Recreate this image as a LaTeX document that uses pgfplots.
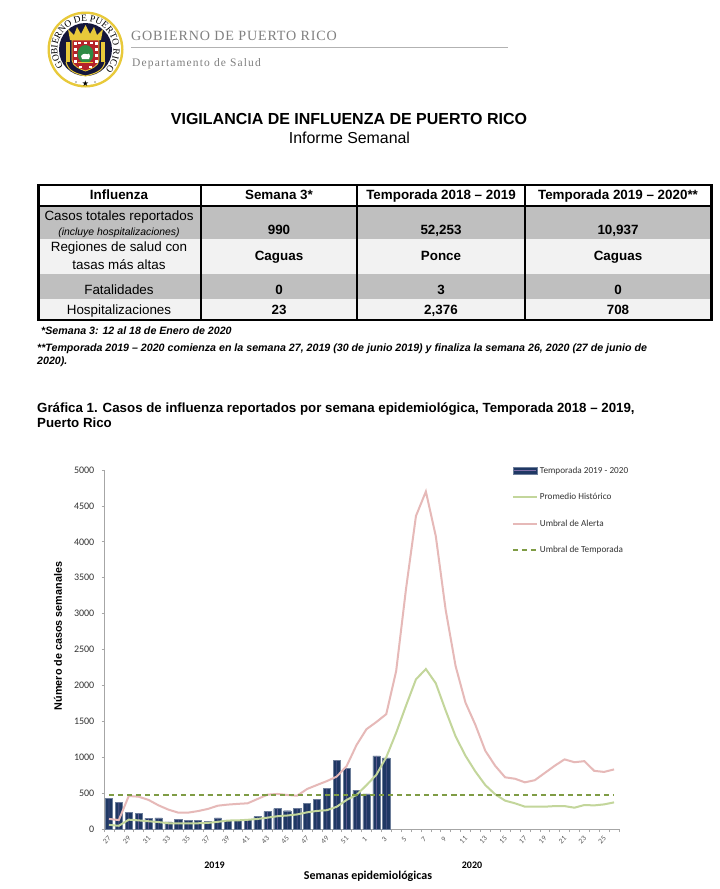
\documentclass[border=0pt]{standalone}
\usepackage{fontspec}
\usepackage{pgfplots}
\usepackage{pgfplotstable}
\pgfplotsset{compat=1.18}
\usetikzlibrary{decorations.text}
\setmainfont{Liberation Sans}
\newfontfamily\calf{Carlito}
\newfontfamily\serf[LetterSpace=6]{Liberation Serif}
\newfontfamily\serg[LetterSpace=10]{Liberation Serif}
\newfontfamily\sertxt{Liberation Serif}
\newfontfamily\symf{DejaVu Sans}
\definecolor{navy}{HTML}{1F3864}
\definecolor{barline}{HTML}{7F6FA8}
\definecolor{promedio}{HTML}{C3D69B}
\definecolor{alerta}{HTML}{E6B9B8}
\definecolor{umbral}{HTML}{7F9C45}
\definecolor{rowdark}{HTML}{BFBFBF}
\definecolor{rowlight}{HTML}{F2F2F2}
\definecolor{axisgray}{HTML}{A6A6A6}
\definecolor{sealgold}{HTML}{E8C93A}
\definecolor{sealink}{HTML}{14163A}
\definecolor{sealred}{HTML}{B5232B}
\definecolor{sealgreen}{HTML}{2E8B45}
\pgfplotstableread{
i wk casos promedio alerta umbral
0 27 425 58 140 480
1 28 370 45 125 480
2 29 235 130 460 480
3 30 215 120 450 480
4 31 150 108 405 480
5 32 155 97 330 480
6 33 100 80 270 480
7 34 135 78 228 480
8 35 120 78 228 480
9 36 120 80 250 480
10 37 105 85 280 480
11 38 155 100 325 480
12 39 120 118 340 480
13 40 125 120 350 480
14 41 135 128 358 480
15 42 172 140 418 480
16 43 242 158 478 480
17 44 283 178 488 480
18 45 255 188 474 480
19 46 292 203 464 480
20 47 353 232 557 480
21 48 413 252 613 480
22 49 570 262 667 480
23 50 960 310 730 480
24 51 840 405 877 480
25 52 540 475 1170 480
26 1 490 610 1390 480
27 2 1020 755 1490 480
28 3 990 1000 1600 480
29 4 nan 1340 2200 480
30 5 nan 1720 3350 480
31 6 nan 2085 4360 480
32 7 nan 2228 4700 480
33 8 nan 2030 4080 480
34 9 nan 1650 3050 480
35 10 nan 1290 2270 480
36 11 nan 1020 1760 480
37 12 nan 800 1450 480
38 13 nan 612 1090 480
39 14 nan 483 880 480
40 15 nan 395 720 480
41 16 nan 358 700 480
42 17 nan 311 650 480
43 18 nan 311 680 480
44 19 nan 311 780 480
45 20 nan 319 880 480
46 21 nan 319 970 480
47 22 nan 297 930 480
48 23 nan 334 945 480
49 24 nan 329 810 480
50 25 nan 343 795 480
51 26 nan 371 830 480
}\datos
\begin{document}
\begin{tikzpicture}[x=1pt,y=1pt]
\useasboundingbox (0,0) rectangle (720,-889);
\fill[white] (0,0) rectangle (720,-889);
% seal
\fill[sealgold] (85.5,-49.5) circle (38);
\fill[white] (85.5,-49.5) circle (35.5);
\fill[sealink] (85.5,-49.5) circle (26.5);
\path[postaction={decorate,decoration={text along path,text align=fit to path,text={|\sertxt\fontsize{9.5}{10}\selectfont|GOBIERNO DE PUERTO RICO}}}]
  (85.5,-49.5) ++(218:28) arc[start angle=218,end angle=-38,radius=28];
\node[font=\symf\fontsize{8}{8}\selectfont,inner sep=0] at (85.5,-83.5) {★};
\fill[black] (76,-82) circle (0.7) (95,-82) circle (0.7);
% crown
\fill[sealgold] (70,-40) -- (68,-29) -- (74,-35) -- (77,-27) -- (81,-34) -- (85.5,-25) -- (90,-34) -- (94,-27) -- (97,-35) -- (103,-29) -- (101,-40) -- cycle;
% side ornaments
\fill[sealgold] (66,-42) rectangle (70,-62);
\fill[sealgold] (101,-42) rectangle (105,-62);
\draw[sealgold,line width=1] (66,-62) .. controls (68,-72) and (78,-74) .. (85.5,-76) .. controls (93,-74) and (103,-72) .. (105,-62);
% shield
\fill[sealred,draw=sealgold,line width=0.8] (72,-40) -- (99,-40) -- (99,-60) .. controls (99,-66) and (91,-69) .. (85.5,-71) .. controls (80,-69) and (72,-66) .. (72,-60) -- cycle;
\foreach \yy in {-42,-48,-54,-60}{\fill[white] (73.5,\yy) rectangle +(3,-2.6);\fill[white] (94.5,\yy) rectangle +(3,-2.6);}
\foreach \xx in {79,85,91}{\fill[white] (\xx-1,-41.5) rectangle +(2.6,-2.6);}
\foreach \xx in {80,90}{\fill[white] (\xx-1,-66) rectangle +(2.6,-2);}
\fill[sealgreen] (85.5,-54) ellipse (8 and 9);
\fill[white] (81,-56) .. controls (83,-53) and (87,-53) .. (90,-56) -- (89,-59) -- (82,-59) -- cycle;
\fill[white] (88.5,-55) circle (1.5);
\fill[sealgold] (78,-62) rectangle (93,-63.2);
% letterhead
\node[anchor=base west,text=gray,font=\serf\fontsize{14.1}{15}\selectfont,inner sep=0] at (131,-40) {GOBIERNO DE PUERTO RICO};
\draw[black!30,line width=0.9] (131,-47.5) -- (508,-47.5);
\node[anchor=base west,text=gray,font=\serg\fontsize{11.5}{13}\selectfont,inner sep=0] at (132,-66) {Departamento de Salud};
% titles
\node[anchor=base,font=\bfseries\fontsize{16}{18}\selectfont,inner sep=0] at (349,-124.5) {VIGILANCIA DE INFLUENZA DE PUERTO RICO};
\node[anchor=base,font=\fontsize{15.9}{18}\selectfont,inner sep=0] at (349.5,-143) {Informe Semanal};
% table
\fill[rowdark] (38,-206) rectangle (712,-239);
\fill[rowlight] (38,-239) rectangle (712,-274);
\fill[rowdark] (38,-274) rectangle (712,-299);
\fill[rowlight] (38,-299) rectangle (712,-320);
\draw[line width=0.8] (37.5,-184) rectangle (712.5,-320.5);
\draw[line width=1.5] (39,-185.5) rectangle (711,-319.5);
\draw[line width=1.5] (39,-206) -- (711,-206);
\foreach \x in {201,357,525} \draw[line width=1.5] (\x,-185) -- (\x,-320);
\newcommand{\cb}[3]{\node[anchor=base,font=\bfseries\fontsize{13.4}{15}\selectfont,inner sep=0] at (#1,-#2) {#3};}
\newcommand{\cn}[3]{\node[anchor=base,font=\fontsize{13.4}{15}\selectfont,inner sep=0] at (#1,-#2) {#3};}
\cb{119}{199.5}{Influenza}\cb{279}{199.5}{Semana 3*}\cb{441}{199.5}{Temporada 2018 – 2019}\cb{618}{199.5}{Temporada 2019 – 2020**}
\cn{119}{220.3}{Casos totales reportados}
\node[anchor=base,font=\itshape\fontsize{10.4}{11}\selectfont,inner sep=0] at (119,-235) {(incluye hospitalizaciones)};
\cb{279}{234.5}{990}\cb{441}{234.5}{52,253}\cb{618}{234.5}{10,937}
\cn{119}{251.7}{Regiones de salud con}\cn{119}{269.3}{tasas más altas}
\cb{279}{260.5}{Caguas}\cb{441}{260.5}{Ponce}\cb{618}{260.5}{Caguas}
\cn{119}{294.3}{Fatalidades}\cb{279}{294.3}{0}\cb{441}{294.3}{3}\cb{618}{294.3}{0}
\cn{119}{314.2}{Hospitalizaciones}\cb{279}{314.2}{23}\cb{441}{314.2}{2,376}\cb{618}{314.2}{708}
% notes
\node[anchor=base west,font=\bfseries\itshape\fontsize{10.65}{11}\selectfont,inner sep=0] at (41,-334.5) {*Semana 3: 12 al 18 de Enero de 2020};
\node[anchor=base west,font=\bfseries\itshape\fontsize{10.65}{11}\selectfont,inner sep=0] at (37,-351) {**Temporada 2019 – 2020 comienza en la semana 27, 2019 (30 de junio 2019) y finaliza la semana 26, 2020 (27 de junio de};
\node[anchor=base west,font=\bfseries\itshape\fontsize{10.65}{11}\selectfont,inner sep=0] at (37,-364.5) {2020).};
\node[anchor=base west,font=\bfseries\fontsize{13.3}{14}\selectfont,inner sep=0] at (37,-412.5) {Gráfica 1. Casos de influenza reportados por semana epidemiológica, Temporada 2018 – 2019,};
\node[anchor=base west,font=\bfseries\fontsize{13.3}{14}\selectfont,inner sep=0] at (37,-427.5) {Puerto Rico};
% chart
\begin{axis}[
  at={(104pt,-829pt)},anchor=south west,
  scale only axis,width=515pt,height=359pt,
  xmin=-0.5,xmax=51.5,ymin=0,ymax=5000,
  axis lines=left,axis line style={axisgray,line width=0.9pt,-},
  clip=false,
  ytick={0,500,...,5000},
  /pgf/number format/assume math mode=true,
  /pgf/number format/set thousands separator={},
  xtick={0,2,...,50},
  xticklabels={27,29,31,33,35,37,39,41,43,45,47,49,51,1,3,5,7,9,11,13,15,17,19,21,23,25},
  minor xtick={-0.5,0.5,...,51.5},
  major x tick style={draw=none},
  minor x tick style={axisgray,line width=0.5pt},
  minor tick length=3pt,
  y tick style={axisgray,line width=0.7pt},
  major tick length=2.5pt,
  tick align=outside,
  yticklabel style={font=\calf\fontsize{10}{11}\selectfont,text=black!80,inner sep=1pt,xshift=-6pt},
  xticklabel style={font=\calf\fontsize{7.5}{8}\selectfont,text=black!65,rotate=45,anchor=center,xshift=-7.35pt,yshift=-4.5pt},
  legend style={at={(0.792,1.015)},anchor=north west,draw=none,fill=none,
    font=\calf\fontsize{9.2}{10}\selectfont,text=black!80,row sep=14.7pt,inner sep=0pt,outer sep=0pt,
    /tikz/every even column/.style={column sep=1pt}},
  legend cell align=left,
]
\addplot[ybar,bar shift=0pt,bar width=7.2pt,fill=navy,draw=navy!65!white,line width=0.4pt,
  legend image code/.code={\fill[navy,draw=navy!65!white,line width=0.4pt] (0pt,-3.5pt) rectangle (24pt,3.5pt);\draw[barline,line width=0.7pt] (1pt,0pt)--(23pt,0pt);}]
  table[x=i,y=casos]{\datos};
\addlegendentry{Temporada 2019 - 2020}
\addplot[ybar,bar shift=0pt,bar width=0.4pt,fill=barline,draw=none,forget plot] table[x=i,y=casos]{\datos};
\addplot[promedio,line width=2pt,no markers,
  legend image code/.code={\draw[promedio,line width=2pt] (0pt,0pt)--(24pt,0pt);}] table[x=i,y=promedio]{\datos};
\addlegendentry{Promedio Histórico}
\addplot[alerta,line width=2pt,no markers,
  legend image code/.code={\draw[alerta,line width=2pt] (0pt,0pt)--(24pt,0pt);}] table[x=i,y=alerta]{\datos};
\addlegendentry{Umbral de Alerta}
\addplot[umbral,line width=2pt,no markers,dash pattern=on 5.5pt off 3.5pt,
  legend image code/.code={\draw[umbral,line width=2pt,dash pattern=on 5.5pt off 3.5pt] (0pt,0pt)--(24pt,0pt);}] table[x=i,y=umbral]{\datos};
\addlegendentry{Umbral de Temporada}
\end{axis}
\node[font=\bfseries\fontsize{10.8}{11}\selectfont,rotate=90,inner sep=0] at (58,-636) {Número de casos semanales};
\node[font=\calf\bfseries\fontsize{10}{11}\selectfont,inner sep=0] at (214.5,-865.5) {2019};
\node[font=\calf\bfseries\fontsize{10}{11}\selectfont,inner sep=0] at (472,-865.5) {2020};
\node[font=\calf\bfseries\fontsize{12}{13}\selectfont,inner sep=0] at (368,-876.5) {Semanas epidemiológicas};
\end{tikzpicture}
\end{document}
